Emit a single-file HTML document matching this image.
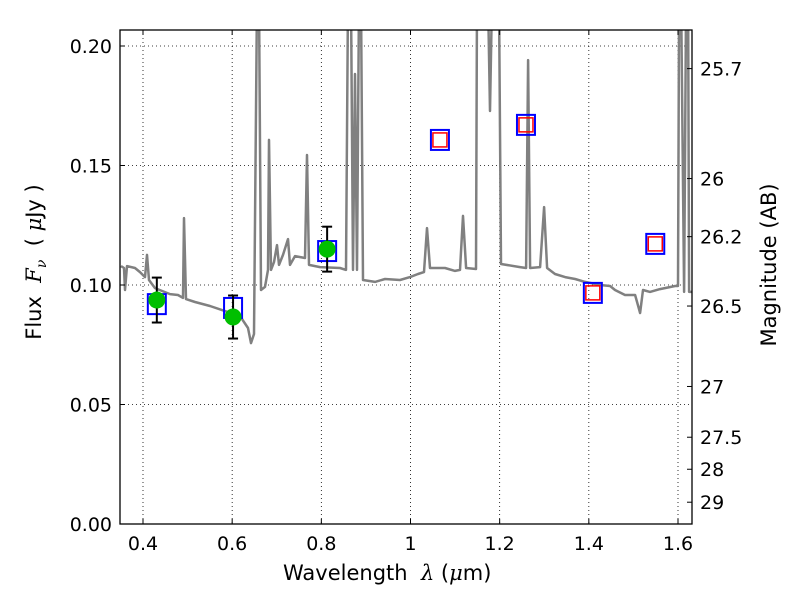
<!DOCTYPE html>
<html><head><meta charset="utf-8"><style>
body{margin:0;background:#fff}
svg text{font-family:"DejaVu Sans","Liberation Sans",sans-serif;fill:#000}
</style></head><body>
<svg id="chart" width="800" height="600">
<g id="grid"></g><g id="spec"></g><g id="marks"></g><g id="axes"></g>
</svg>
<script>
const specLam=[0.3507,0.3574,0.3596,0.3641,0.3821,0.3933,0.4045,0.4090,0.4135,0.4269,0.4606,0.4785,0.4897,0.4920,0.4965,0.5166,0.5503,0.5839,0.6176,0.6355,0.6423,0.6490,0.6557,0.6602,0.6647,0.6737,0.6804,0.6826,0.6871,0.6939,0.7006,0.7051,0.7140,0.7253,0.7298,0.7410,0.7634,0.7679,0.7724,0.7971,0.8419,0.8554,0.8599,0.8666,0.8711,0.8756,0.8801,0.8845,0.8890,0.8935,0.9204,0.9429,0.9765,0.9989,1.0169,1.0303,1.0371,1.0438,1.0774,1.0999,1.1111,1.1178,1.1246,1.1470,1.1492,1.1560,1.1739,1.1784,1.1829,1.1986,1.2031,1.2457,1.2592,1.2637,1.2682,1.2906,1.2996,1.3063,1.3242,1.3467,1.3691,1.3915,1.4252,1.4476,1.4588,1.4812,1.5037,1.5149,1.5216,1.5373,1.5597,1.5934,1.6001,1.6024,1.6069,1.6136,1.6181,1.6226,1.6248,1.6315];
const specF=[0.1079,0.1071,0.0979,0.1079,0.1071,0.1054,0.1033,0.1126,0.1021,0.0987,0.0962,0.0958,0.0946,0.1280,0.0941,0.0929,0.0912,0.0891,0.0870,0.0820,0.0757,0.0795,0.22,0.22,0.0979,0.0992,0.1063,0.1607,0.1063,0.1096,0.1167,0.1084,0.1126,0.1192,0.1084,0.1121,0.1113,0.1544,0.1084,0.1075,0.1071,0.1063,0.22,0.22,0.1063,0.1883,0.1063,0.22,0.22,0.1021,0.1013,0.1025,0.1021,0.1033,0.1046,0.1054,0.1238,0.1071,0.1071,0.1059,0.1063,0.1289,0.1071,0.1067,0.22,0.22,0.22,0.1728,0.22,0.22,0.1088,0.1075,0.1071,0.1941,0.1071,0.1075,0.1326,0.1071,0.1046,0.1033,0.1025,0.1013,0.1000,0.0996,0.0979,0.0958,0.0958,0.0883,0.0979,0.0971,0.0983,0.0996,0.0996,0.22,0.22,0.0971,0.22,0.22,0.0971,0.0971];
const obsLam=[0.431,0.602,0.813];
const obsF=[0.0937,0.0866,0.115];
const obsErr=[0.0094,0.009,0.0094];
const modLam=[0.431,0.602,0.813,1.066,1.259,1.409,1.549];
const modF=[0.092,0.0904,0.1142,0.1607,0.167,0.0967,0.1172];
const predLam=[1.066,1.259,1.409,1.549];
const predF=[0.1607,0.167,0.0967,0.1172];
const xTicks=[0.4,0.6,0.8,1.0,1.2,1.4,1.6];
const xTickLabels=["0.4","0.6","0.8","1","1.2","1.4","1.6"];
const yTicks=[0,0.05,0.1,0.15,0.2];
const yTickLabels=["0.00","0.05","0.10","0.15","0.20"];
const magTicks=[25.7,26,26.2,26.5,27,27.5,28,29];
const magLabels=["25.7","26","26.2","26.5","27","27.5","28","29"];

const L=120,R=692,T=30,B=524;
function sx(v){return 143+(v-0.4)/1.2*535;}
function sy(v){return 524-v*2390;}
const NS="http://www.w3.org/2000/svg";
function mk(tag,attrs,parent,txt){const e=document.createElementNS(NS,tag);for(const k in attrs)e.setAttribute(k,attrs[k]);if(txt!==undefined)e.textContent=txt;parent.appendChild(e);return e;}
const grid=document.getElementById('grid'),spec=document.getElementById('spec'),marks=document.getElementById('marks'),axes=document.getElementById('axes');
const svg=document.getElementById('chart');
const defs=mk('defs',{},svg);const cp=mk('clipPath',{id:'cp'},defs);mk('rect',{x:L,y:T,width:R-L,height:B-T},cp);
spec.setAttribute('clip-path','url(#cp)');
xTicks.forEach((t,i)=>{
 const x=sx(t);
 const g=mk('line',{x1:x,x2:x,y1:T,y2:B,stroke:'#000','stroke-width':0.8,'stroke-dasharray':'1,3'},grid);
 
 
 mk('line',{x1:x,x2:x,y1:B,y2:B-5,stroke:'#000'},axes);mk('line',{x1:x,x2:x,y1:T,y2:T+5,stroke:'#000'},axes);
 const tx=mk('text',{x:x,y:B+26,'text-anchor':'middle','font-size':19},axes,xTickLabels[i]);
 
 
});
yTicks.forEach((t,i)=>{
 const y=sy(t);
 const g=mk('line',{x1:L,x2:R,y1:y,y2:y,stroke:'#000','stroke-width':0.8,'stroke-dasharray':'1,3'},grid);
 
 
 mk('line',{x1:L,x2:L+5,y1:y,y2:y,stroke:'#000'},axes);
 const tx=mk('text',{x:L-8,y:y+7,'text-anchor':'end','font-size':19},axes,yTickLabels[i]);
 
 
});
magTicks.forEach((m,i)=>{
 const y=sy(Math.pow(10,(23.9-m)/2.5));
 mk('line',{x1:R,x2:R-5,y1:y,y2:y,stroke:'#000'},axes);
 const tx=mk('text',{x:R+8,y:y+7,'font-size':19},axes,magLabels[i]);
 
 
});
const pts=specLam.map((l,i)=>sx(l).toFixed(1)+','+sy(specF[i]).toFixed(1)).join(' ');
const pl=mk('polyline',{points:pts,fill:'none',stroke:'#808080','stroke-width':2.5,'stroke-linejoin':'round'},spec);


modLam.forEach((l,i)=>{
 const r=mk('rect',{x:sx(l)-9,y:sy(modF[i])-10,width:18,height:20,fill:'none',stroke:'#0000ff','stroke-width':2},marks);
 
 
});
predLam.forEach((l,i)=>{
 const r=mk('rect',{x:sx(l)-7,y:sy(predF[i])-7,width:14,height:14,fill:'none',stroke:'#ff0000','stroke-width':1.5},marks);
 
 
});
obsLam.forEach((l,i)=>{
 const x=sx(l),y1=sy(obsF[i]+obsErr[i]),y2=sy(obsF[i]-obsErr[i]);
 mk('line',{x1:x,x2:x,y1:y1,y2:y2,stroke:'#000','stroke-width':2},marks);
 mk('line',{x1:x-5,x2:x+5,y1:y1,y2:y1,stroke:'#000','stroke-width':2},marks);
 mk('line',{x1:x-5,x2:x+5,y1:y2,y2:y2,stroke:'#000','stroke-width':2},marks);
 const c=mk('circle',{cx:x,cy:sy(obsF[i]),r:8.5,fill:'#00bf00'},marks);
 
 
});
const fr=mk('rect',{x:L,y:T,width:R-L,height:B-T,fill:'none',stroke:'#000','stroke-width':1.3},axes);


</script>
<div style="position:absolute;left:0;top:0;width:800px;height:600px;pointer-events:none">
<div style="position:absolute;left:283px;top:561px;font:21px 'DejaVu Sans',sans-serif">Wavelength&nbsp; <i style="font-family:'DejaVu Serif',serif">λ</i> (<i style="font-family:'DejaVu Serif',serif">μ</i>m)</div>
<div style="position:absolute;left:36px;top:262px;width:0;height:0"><div style="position:absolute;transform:translate(-50%,-50%) rotate(-90deg);white-space:nowrap;font:21px 'DejaVu Sans',sans-serif">Flux&nbsp; <i style="font-family:'DejaVu Serif',serif">F<sub style="font-size:14px">ν</sub></i>&nbsp; ( <i style="font-family:'DejaVu Serif',serif">μ</i>Jy )</div></div>
<div style="position:absolute;left:769px;top:265px;width:0;height:0"><div style="position:absolute;transform:translate(-50%,-50%) rotate(-90deg);white-space:nowrap;font:21px 'DejaVu Sans',sans-serif">Magnitude (AB)</div></div>
</div>
</body></html>
